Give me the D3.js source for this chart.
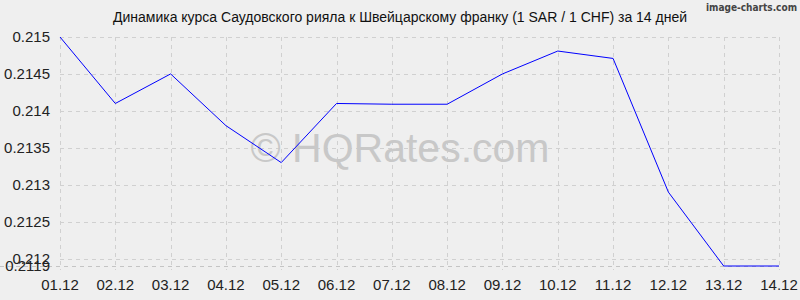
<!DOCTYPE html>
<html>
<head>
<meta charset="utf-8">
<script src="https://cdn.jsdelivr.net/npm/d3@7"></script>
<style>
  body { margin: 0; background: #efefef; }
  svg { display: block; font-family: "Liberation Sans", Arial, sans-serif; }
</style>
</head>
<body>
<svg id="chart" width="800" height="300"></svg>
<script>
var titleText = "Динамика курса Саудовского рияла к Швейцарскому франку (1 SAR / 1 CHF) за 14 дней";
var dates = ["01.12", "02.12", "03.12", "04.12", "05.12", "06.12", "07.12",
             "08.12", "09.12", "10.12", "11.12", "12.12", "13.12", "14.12"];
var rates = [0.2150, 0.2141, 0.2145, 0.2138, 0.2133, 0.2141, 0.21409,
             0.21409, 0.2145, 0.21481, 0.21471, 0.2129, 0.2119, 0.2119];
var yTicks = [0.212, 0.2125, 0.213, 0.2135, 0.214, 0.2145, 0.215];
var yMin = 0.2119, yMax = 0.215;

var svg = d3.select("#chart");
var plotLeft = 60, plotRight = 779, plotTop = 37, plotBottom = 266;

svg.append("rect").attr("width", 800).attr("height", 300).attr("fill", "#efefef");

var x = d3.scalePoint().domain(dates).range([plotLeft, plotRight]);
var y = d3.scaleLinear().domain([yMin, yMax]).range([plotBottom, plotTop]);

// grid
var grid = svg.append("g").attr("stroke", "#d0d0d0").attr("stroke-dasharray", "4,4").attr("stroke-width", 1);
grid.selectAll(".vg").data(dates).enter().append("line")
    .attr("x1", function(d){ return Math.round(x(d)) + 0.5; })
    .attr("x2", function(d){ return Math.round(x(d)) + 0.5; })
    .attr("y1", plotTop).attr("y2", plotBottom + 4);
grid.selectAll(".hg").data(yTicks).enter().append("line")
    .attr("x1", plotLeft).attr("x2", plotRight)
    .attr("y1", function(d){ return Math.round(y(d)) + 0.5; })
    .attr("y2", function(d){ return Math.round(y(d)) + 0.5; });
svg.append("line")
    .attr("x1", 0).attr("x2", plotRight)
    .attr("y1", plotBottom + 0.5).attr("y2", plotBottom + 0.5)
    .attr("stroke", "#c4c4c4").attr("stroke-dasharray", "4,4");

// watermark
svg.append("text")
    .attr("x", 400).attr("y", 162)
    .attr("text-anchor", "middle")
    .attr("font-size", 41)
    .attr("fill", "#c8c8c8")
    .text("© HQRates.com");

// y labels
svg.selectAll(".yl").data(yTicks.concat([yMin])).enter().append("text")
    .attr("x", 50)
    .attr("y", function(d){ return y(d) + 5; })
    .attr("text-anchor", "end")
    .attr("font-size", 15)
    .attr("fill", "#222")
    .text(function(d){ return d; });

// x labels
svg.selectAll(".xl").data(dates).enter().append("text")
    .attr("x", function(d){ return x(d); })
    .attr("y", 290)
    .attr("text-anchor", "middle")
    .attr("font-size", 15)
    .attr("fill", "#222")
    .text(function(d){ return d; });

// line
var line = d3.line()
    .x(function(d, i){ return x(dates[i]); })
    .y(function(d){ return y(d); });
svg.append("path")
    .datum(rates)
    .attr("d", line)
    .attr("fill", "none")
    .attr("stroke", "#0000ff")
    .attr("stroke-width", 1);

// title
svg.append("text")
    .attr("x", 400).attr("y", 22)
    .attr("text-anchor", "middle")
    .attr("font-size", 14)
    .attr("fill", "#111")
    .text(titleText);

svg.append("text")
    .attr("x", 797).attr("y", 11)
    .attr("text-anchor", "end")
    .attr("font-family", "'DejaVu Sans Condensed', 'DejaVu Sans', sans-serif")
    .attr("font-size", 10)
    .attr("font-weight", "bold")
    .attr("fill", "#444")
    .text("image-charts.com");
</script>
</body>
</html>
